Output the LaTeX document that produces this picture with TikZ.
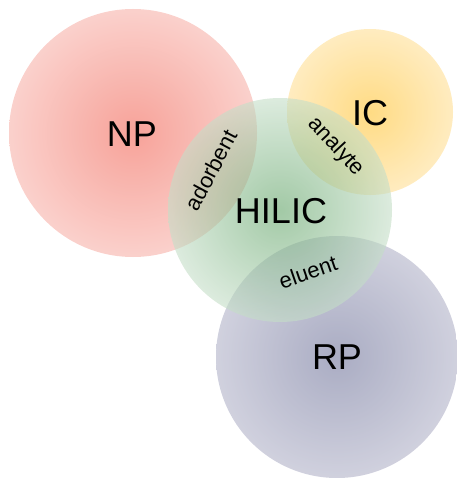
\documentclass[tikz,border=0pt]{standalone}
\usepackage{fontspec}
\setmainfont{Liberation Sans}
\begin{document}
\begin{tikzpicture}[x=1pt,y=-1pt,
  big/.style={font=\fontsize{36}{40}\selectfont, inner sep=0pt},
  small/.style={font=\fontsize{22}{24}\selectfont, inner sep=0pt},
  disc/.style={fill opacity=0.6, opacity=0.6}]
\definecolor{npin}{RGB}{242,100,85}
\definecolor{npout}{RGB}{247,178,170}
\definecolor{icin}{RGB}{255,195,50}
\definecolor{icout}{RGB}{255,223,150}
\definecolor{hiin}{RGB}{100,165,106}
\definecolor{hiout}{RGB}{197,222,200}
\definecolor{rpin}{RGB}{113,117,155}
\definecolor{rpout}{RGB}{177,178,200}
\useasboundingbox (0,0) rectangle (456,478);
\shade[disc, inner color=npin, outer color=npout] (133,133) circle (124);
\shade[disc, inner color=icin, outer color=icout] (370,112) circle (83);
\shade[disc, inner color=rpin, outer color=rpout] (337,357) circle (121);
\shade[disc, inner color=hiin, outer color=hiout] (280,210) circle (112);
\node[big] (np) at (132,134) {NP};
\node[big] (ic) at (370,113) {IC};
\node[big] (hilic) at (281,211) {HILIC};
\node[big] (rp) at (337,357) {RP};
\node[small, rotate=62] (ads) at (211,170) {adorbent};
\node[small, rotate=-47] (ana) at (336,147) {analyte};
\node[small, rotate=19] (elu) at (308,272) {eluent};
\end{tikzpicture}
\end{document}
